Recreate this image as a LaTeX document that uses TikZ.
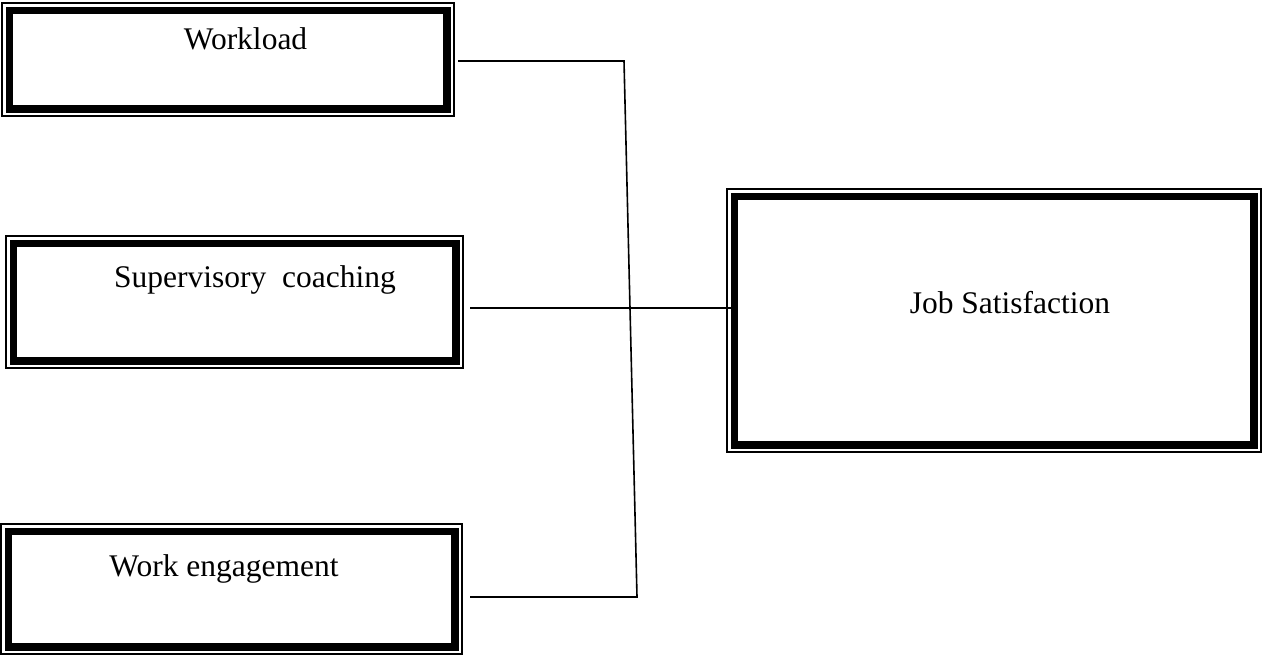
\documentclass[tikz,border=0pt]{standalone}
\usepackage{fontspec}
\setmainfont{Liberation Serif}
\usetikzlibrary{positioning}

\begin{document}
\begin{tikzpicture}[
        x=0.5pt, y=-0.5pt,
        box/.style={draw, line width=3.9pt, inner sep=0pt},
        rim/.style={line width=0.7pt},
        link/.style={line width=0.8pt},
        lbl/.style={anchor=base, inner sep=0pt, font=\fontsize{15.75}{19}\selectfont}
    ]
    \useasboundingbox (0,0) rectangle (1262,655);

    % boxes
    \node[box, minimum width=218.6pt, minimum height=49.1pt] (work) at (228,59.5) {};
    \node[box, minimum width=221.1pt, minimum height=58.6pt] (coach) at (234.5,302) {};
    \node[box, minimum width=223.1pt, minimum height=57.6pt] (engage) at (231.5,589) {};
    \node[box, minimum width=259.6pt, minimum height=124.1pt] (sat) at (994,320.5) {};

    \foreach \b in {work,coach,engage,sat}
        \draw[rim] ([shift={(-1.75pt,1.75pt)}]\b.north west) rectangle ([shift={(1.75pt,-1.75pt)}]\b.south east);

    \node[lbl] (work-t) at (245.5,49) {Workload};
    \node[lbl] (coach-t) at (255,287) {Supervisory\ \ coaching};
    \node[lbl] (engage-t) at (224,576) {Work engagement};
    \node[lbl] (sat-t) at (1010,313) {Job Satisfaction};

    % connectors
    \coordinate (elbowtop) at (624,61);
    \coordinate (elbowbot) at (637,597);
    \coordinate (midline) at (470,308);

    \draw[link] ([xshift=3.75pt]work.east |- elbowtop) -- (elbowtop) -- (elbowbot)
        -- ([xshift=5.75pt]engage.east |- elbowbot);
    \draw[link] ([xshift=5.25pt]coach.east |- midline) -- (sat.west |- midline);

\end{tikzpicture}
\end{document}
